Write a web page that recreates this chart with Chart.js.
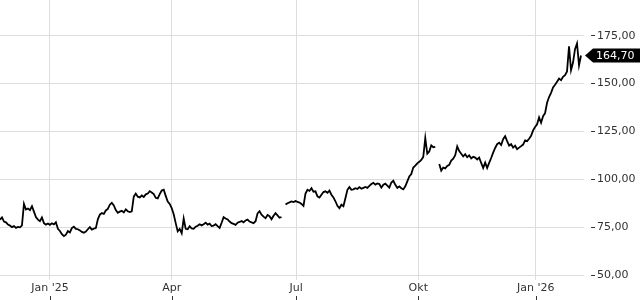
<!DOCTYPE html>
<html>
<head>
<meta charset="utf-8">
<script src="https://cdn.jsdelivr.net/npm/chart.js@4"></script>
<style>
  html, body { margin: 0; padding: 0; background: #fff; }
  #wrap { width: 640px; height: 300px; position: relative; }
</style>
</head>
<body>
<div id="wrap"><canvas id="chart"></canvas></div>
<script>
// closing prices, one sample per step (null = gap in the feed)
const prices = [
  79.0, 80.2, 78.0, 77.6, 76.4, 75.9, 75.1, 75.6, 74.7, 75.2,
  75.0, 76.0, 87.2, 84.3, 84.8, 84.0, 86.0, 83.2, 80.4, 79.0,
  78.2, 80.1, 77.2, 76.4, 77.0, 76.3, 77.1, 76.5, 77.6, 74.2,
  73.1, 71.4, 70.4, 71.2, 73.0, 72.3, 74.6, 75.3, 74.2, 74.0,
  73.4, 72.6, 72.2, 72.8, 74.0, 75.1, 73.8, 74.3, 74.6, 79.2,
  81.6, 82.4, 82.0, 83.8, 84.6, 86.8, 87.8, 86.4, 84.0, 82.6,
  83.2, 83.6, 82.8, 84.4, 83.4, 83.0, 83.3, 91.0, 92.6, 91.0,
  90.6, 91.6, 90.8, 92.2, 92.6, 93.9, 93.2, 92.4, 90.4, 90.1,
  92.3, 94.2, 94.6, 91.4, 88.4, 87.2, 85.0, 81.8, 77.2, 72.9,
  74.2, 71.9, 79.6, 74.2, 74.0, 75.6, 74.4, 74.2, 75.3, 75.8,
  76.6, 76.0, 76.6, 77.4, 76.4, 76.9, 75.7, 75.9, 76.6, 75.6,
  74.7, 77.4, 80.3, 79.6, 79.1, 78.0, 77.2, 76.8, 76.3, 77.4,
  77.8, 78.3, 77.6, 78.6, 79.0, 78.0, 77.6, 77.2, 78.2, 82.3,
  83.4, 81.6, 80.6, 79.8, 81.4, 80.8, 79.2, 81.0, 82.4, 81.2,
  80.0, 80.4, null, 86.9, 87.6, 88.0, 88.5, 88.2, 88.7, 88.3,
  87.9, 87.2, 86.2, 92.6, 94.6, 94.0, 95.4, 93.6, 93.8, 91.2,
  90.5, 92.0, 93.4, 93.8, 93.0, 94.2, 92.0, 90.6, 88.6, 86.2,
  85.0, 86.8, 86.0, 90.2, 94.6, 96.0, 94.6, 94.8, 95.4, 95.0,
  96.0, 95.2, 95.6, 96.1, 95.6, 96.6, 97.6, 98.2, 97.3, 97.9,
  97.6, 95.7, 97.2, 97.8, 96.8, 95.7, 98.4, 99.3, 97.2, 95.6,
  96.4, 95.4, 94.8, 96.4, 99.0, 101.6, 102.8, 106.2, 107.2, 108.4,
  109.2, 110.2, 111.8, 121.6, 113.4, 114.6, 117.8, 116.8, 117.0, null,
  108.0, 104.6, 106.2, 105.8, 107.0, 107.6, 109.8, 110.8, 112.6, 117.2,
  114.8, 113.4, 112.0, 113.2, 111.6, 112.6, 111.0, 111.8, 111.4, 110.4,
  111.4, 108.6, 106.0, 108.8, 106.0, 108.6, 111.2, 114.0, 116.4, 118.4,
  119.2, 118.0, 121.0, 122.6, 120.0, 117.6, 118.4, 116.6, 117.6, 115.8,
  116.6, 117.4, 118.2, 120.4, 120.0, 121.2, 122.8, 125.6, 127.4, 128.8,
  132.4, 129.6, 133.0, 134.6, 140.0, 143.0, 145.2, 148.0, 149.4, 151.0,
  152.6, 151.8, 153.6, 154.4, 156.4, 169.5, 157.0, 161.0, 168.0, 171.0,
  159.6, 164.7
];

// sample positions of the month starts on the x axis
const tickIdx = [25, 86, 148.3, 209.5, 268.3];
const tickLabels = ["Jan '25", "Apr", "Jul", "Okt", "Jan '26"];
const yTicks = [50, 75, 100, 125, 150, 175];

const fmt = v => v.toFixed(2).replace('.', ',');

// black price tag for the last value + small marks under the month labels
const extras = {
  id: 'extras',
  afterDraw(chart) {
    const ctx = chart.ctx
    const xs = chart.scales.x
    const ys = chart.scales.y
    const area = chart.chartArea

    ctx.save()
    ctx.strokeStyle = '#333'
    ctx.lineWidth = 1
    xs.ticks.forEach(t => {
      const px = Math.round(xs.getPixelForValue(t.value)) + 0.5
      ctx.beginPath()
      ctx.moveTo(px, 296)
      ctx.lineTo(px, 300)
      ctx.stroke()
    })

    let last = null
    for (let i = prices.length - 1; i >= 0; i--) {
      if (prices[i] !== null) { last = prices[i]; break }
    }
    const y = ys.getPixelForValue(last)
    const x0 = area.right + 1
    ctx.fillStyle = '#000'
    ctx.beginPath()
    ctx.moveTo(x0, y)
    ctx.lineTo(x0 + 8, y - 7)
    ctx.lineTo(chart.width, y - 7)
    ctx.lineTo(chart.width, y + 7)
    ctx.lineTo(x0 + 8, y + 7)
    ctx.closePath()
    ctx.fill()
    ctx.fillStyle = '#fff'
    ctx.font = '11px "DejaVu Sans"'
    ctx.textBaseline = 'middle'
    ctx.fillText(fmt(last), 596, y + 0.5)
    ctx.restore()
  }
}

new Chart(document.getElementById('chart'), {
  type: 'line',
  data: {
    datasets: [{
      data: prices.map((v, i) => ({ x: i, y: v })),
      borderColor: '#000',
      borderWidth: 1.8,
      pointRadius: 0,
      tension: 0,
      spanGaps: false
    }]
  },
  options: {
    responsive: true,
    maintainAspectRatio: false,
    animation: false,
    devicePixelRatio: 1,
    layout: { padding: 0 },
    plugins: {
      legend: { display: false },
      tooltip: { enabled: false }
    },
    scales: {
      x: {
        type: 'linear',
        min: 0,
        max: 292.5,
        afterBuildTicks: s => { s.ticks = tickIdx.map(v => ({ value: v })) },
        afterFit: s => {
          s.height = 20
          s.paddingLeft = 0
          s.paddingRight = 0
        },
        border: { display: false },
        grid: { color: '#dddddd', drawTicks: false },
        ticks: {
          autoSkip: false,
          maxRotation: 0,
          padding: 2,
          color: '#333',
          font: { family: 'DejaVu Sans', size: 11 },
          callback: (v, i) => tickLabels[i]
        }
      },
      y: {
        position: 'right',
        min: 47.5,
        max: 193.66,
        afterBuildTicks: s => { s.ticks = yTicks.map(v => ({ value: v })) },
        afterFit: s => {
          s.width = 56
          s.paddingTop = 0
          s.paddingBottom = 0
        },
        border: { display: false },
        grid: {
          color: '#dddddd',
          tickColor: '#333',
          tickLength: 11,
          tickBorderDash: [4, 20],
          tickBorderDashOffset: -7
        },
        ticks: {
          padding: 2,
          color: '#333',
          font: { family: 'DejaVu Sans', size: 11 },
          callback: v => fmt(v)
        }
      }
    }
  },
  plugins: [extras]
})
</script>
</body>
</html>
